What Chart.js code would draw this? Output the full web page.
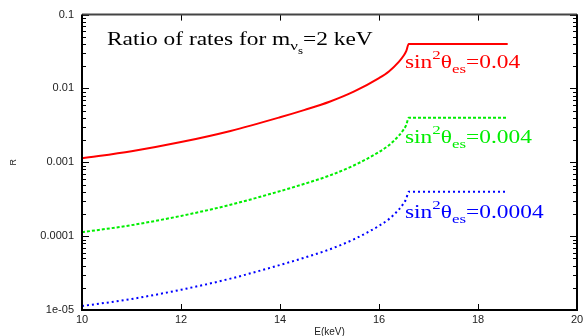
<!DOCTYPE html>
<html>
<head>
<meta charset="utf-8">
<script src="https://cdn.jsdelivr.net/npm/chart.js@4.4.1/dist/chart.umd.min.js"></script>
<style>
  html, body { margin: 0; padding: 0; background: #fff; }
  #wrap { width: 587px; height: 336px; }
</style>
</head>
<body>
<div id="wrap"><canvas id="chartR"></canvas></div>
<script>
// energies in keV
const energy = [10, 11, 12, 13, 14, 14.5, 15, 15.5, 16, 16.2, 16.4, 16.5, 16.55, 16.6, 18.6];
// R for sin^2(theta_es) = 0.04, 0.004, 0.0004
const ratio04 = [0.00113, 0.00141, 0.00188, 0.00266, 0.00407, 0.00513, 0.00661, 0.00912, 0.0138, 0.0170, 0.0229, 0.0279, 0.0320, 0.04, 0.04];
const ratio004 = [0.000113, 0.000141, 0.000188, 0.000266, 0.000407, 0.000513, 0.000661, 0.000912, 0.00138, 0.00170, 0.00229, 0.00279, 0.00320, 0.004, 0.004];
const ratio0004 = [0.0000113, 0.0000141, 0.0000188, 0.0000266, 0.0000407, 0.0000513, 0.0000661, 0.0000912, 0.000138, 0.000170, 0.000229, 0.000279, 0.000320, 0.0004, 0.0004];

const xTicks = [10, 12, 14, 16, 18, 20];
const yTickValues = [0.00001, 0.0001, 0.001, 0.01, 0.1];
const yTickLabels = ['1e-05', '0.0001', '0.001', '0.01', '0.1'];

const seriesLabels = ['0.04', '0.004', '0.0004'];
const seriesColors = ['#ff0000', '#00ee00', '#0000ff'];

function pts(ys) {
  return energy.map((e, i) => ({ x: e, y: ys[i] }));
}

// draws a run of text pieces, each with its own size and vertical shift, stretched sideways
function richText(ctx, x, y, pieces, color, stretch) {
  ctx.save();
  ctx.translate(x, y);
  ctx.scale(stretch, 1);
  ctx.fillStyle = color;
  ctx.textBaseline = 'alphabetic';
  ctx.textAlign = 'left';
  let cx = 0;
  pieces.forEach(p => {
    ctx.font = p.size + 'px "Liberation Serif", "Times New Roman", serif';
    ctx.fillText(p.t, cx, p.dy || 0);
    cx += ctx.measureText(p.t).width;
  });
  ctx.restore();
}

const framePlugin = {
  id: 'frame',
  afterDraw(chart) {
    const ctx = chart.ctx;
    const a = chart.chartArea;
    const xs = chart.scales.x, ys = chart.scales.y;

    ctx.save();
    ctx.strokeStyle = '#000';
    ctx.lineWidth = 1;
    // x ticks, inward on bottom and top
    xTicks.forEach(v => {
      const px = Math.round(xs.getPixelForValue(v)) + 0.5;
      ctx.beginPath();
      ctx.moveTo(px, a.bottom); ctx.lineTo(px, a.bottom - 6);
      ctx.moveTo(px, a.top); ctx.lineTo(px, a.top + 6);
      ctx.stroke();
    });
    // y ticks, majors and minors, inward on left and right
    yTickValues.forEach(d => {
      for (let k = 1; k <= 9; k++) {
        const v = d * k;
        if (v > ys.max * 1.0001) break;
        const py = Math.round(ys.getPixelForValue(v)) + 0.5;
        const len = k === 1 ? 7 : 4;
        ctx.beginPath();
        ctx.moveTo(a.left, py); ctx.lineTo(a.left + len, py);
        ctx.moveTo(a.right, py); ctx.lineTo(a.right - len, py);
        ctx.stroke();
      }
    });
    // frame
    ctx.lineWidth = 2;
    ctx.strokeStyle = '#444';
    ctx.beginPath();
    ctx.moveTo(a.left, a.top); ctx.lineTo(a.right, a.top);
    ctx.stroke();
    ctx.strokeStyle = '#000';
    ctx.beginPath();
    ctx.moveTo(a.right, a.top); ctx.lineTo(a.right, a.bottom);
    ctx.lineTo(a.left, a.bottom); ctx.lineTo(a.left, a.top);
    ctx.stroke();
    ctx.restore();

    // title inside the plot
    richText(ctx, 107, 45, [
      { t: 'Ratio of rates for m', size: 18 },
      { t: 'ν', size: 13, dy: 5 },
      { t: 's', size: 10, dy: 9 },
      { t: '=2 keV', size: 18 }
    ], '#000', 1.3);

    // series labels
    const labelY = [68, 143, 218];
    seriesLabels.forEach((s, i) => {
      richText(ctx, 405, labelY[i], [
        { t: 'sin', size: 18 },
        { t: '2', size: 13, dy: -9 },
        { t: 'θ', size: 18 },
        { t: 'es', size: 13, dy: 5 },
        { t: '=' + s, size: 18 }
      ], seriesColors[i], 1.3);
    });
  }
};

new Chart(document.getElementById('chartR').getContext('2d'), {
  type: 'line',
  data: {
    datasets: [
      { label: 'sin2 0.04', data: pts(ratio04), borderColor: seriesColors[0], borderWidth: 2 },
      { label: 'sin2 0.004', data: pts(ratio004), borderColor: seriesColors[1], borderWidth: 2, borderDash: [3, 2] },
      { label: 'sin2 0.0004', data: pts(ratio0004), borderColor: seriesColors[2], borderWidth: 2, borderDash: [2, 3] }
    ]
  },
  options: {
    responsive: true,
    maintainAspectRatio: false,
    animation: false,
    layout: { padding: { top: 11, right: 10, left: 0, bottom: 0 } },
    elements: { point: { radius: 0 }, line: { cubicInterpolationMode: 'monotone', fill: false } },
    plugins: { legend: { display: false }, tooltip: { enabled: false } },
    scales: {
      x: {
        type: 'linear', min: 10, max: 20,
        grid: { display: false, drawTicks: false },
        border: { display: false },
        afterBuildTicks: s => { s.ticks = xTicks.map(v => ({ value: v })); },
        afterFit: s => { s.height = 26; },
        ticks: { padding: 3, color: '#222', font: { family: '"Liberation Sans", Arial, sans-serif', size: 11 }, callback: v => String(v) },
        title: { display: true, text: 'E(keV)', color: '#222', padding: { top: 0, bottom: -2 }, font: { family: '"Liberation Sans", Arial, sans-serif', size: 10 } }
      },
      y: {
        type: 'logarithmic', min: 0.00001, max: 0.1,
        grid: { display: false, drawTicks: false },
        border: { display: false },
        afterBuildTicks: s => { s.ticks = yTickValues.map(v => ({ value: v })); },
        afterFit: s => { s.width = 82; },
        ticks: {
          padding: 8, color: '#222', autoSkip: false,
          font: { family: '"Liberation Sans", Arial, sans-serif', size: 11 },
          callback: (v) => { const i = yTickValues.indexOf(v); return i >= 0 ? yTickLabels[i] : ''; }
        },
        title: { display: true, text: 'R', color: '#222', padding: { top: 8, bottom: 0 }, font: { family: '"Liberation Sans", Arial, sans-serif', size: 9 } }
      }
    }
  },
  plugins: [framePlugin]
});
</script>
</body>
</html>
